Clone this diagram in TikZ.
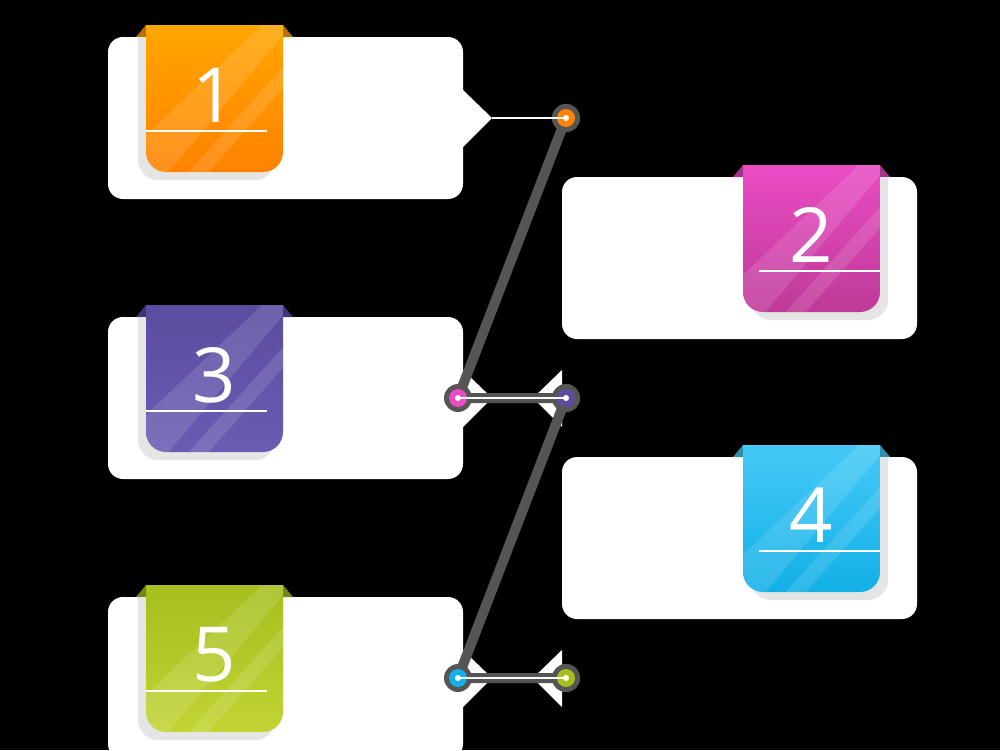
\documentclass[tikz,border=0pt]{standalone}
\usepackage{fontspec}
\setmainfont{Open Sans}
\definecolor{spinegray}{HTML}{555555}
\definecolor{oneA}{HTML}{FFA600}\definecolor{oneB}{HTML}{FF8200}
\definecolor{twoA}{HTML}{EA4CC4}\definecolor{twoB}{HTML}{BE3A98}
\definecolor{thrA}{HTML}{5B4CA0}\definecolor{thrB}{HTML}{6A5CB2}
\definecolor{forA}{HTML}{45C9F7}\definecolor{forB}{HTML}{12B0E6}
\definecolor{fivA}{HTML}{A6BE1E}\definecolor{fivB}{HTML}{C2D434}
\tikzset{
  card/.style={fill=white, rounded corners=15pt},
  spine/.style={draw=spinegray, line width=10pt, line join=round},
  dotring/.style={circle, fill=spinegray, minimum size=28pt, inner sep=0pt},
  leader/.style={draw=white, line width=1.2pt},
}
\begin{document}
\begin{tikzpicture}[x=1pt, y=-1pt]
\fill[black] (0,0) rectangle (1000,750);
\useasboundingbox (0,0) rectangle (1000,750);
\begin{scope}
\clip (0,0) rectangle (1000,750);
% cards: n / row offset / side / colour top / colour bottom
\foreach \n/\o/\s/\ca/\cb in {1/0/0/oneA/oneB, 2/140/1/twoA/twoB, 3/280/0/thrA/thrB, 4/420/1/forA/forB, 5/560/0/fivA/fivB}{
  \pgfmathsetmacro{\bx}{\s==0 ? 108 : 562}
  \pgfmathsetmacro{\tl}{\s==0 ? 146 : 743}
  \pgfmathsetmacro{\sh}{\s==0 ? -8 : 8}
  \pgfmathsetmacro{\tr}{\tl+137}
  \pgfmathsetmacro{\ty}{25+\o}
  % white card
  \fill[card] (\bx,37+\o) rectangle (\bx+355,199+\o);
  \ifnum\s=0
    \fill[white] (463,90+\o) -- (492,118+\o) -- (463,147+\o) -- cycle;
    \coordinate (t\n) at (492,118+\o);
    \node[dotring] (d\n) at (566,118+\o) {};
  \else
    \fill[white] (562,230+\o) -- (533,258+\o) -- (562,287+\o) -- cycle;
    \coordinate (t\n) at (533,258+\o);
    \node[dotring] (d\n) at (458,258+\o) {};
  \fi
  % folds
  \fill[\ca!70!black] (\tl-10,\ty+12) -- (\tl,\ty) -- (\tl,\ty+12) -- cycle;
  \fill[\ca!70!black] (\tr+10,\ty+12) -- (\tr,\ty) -- (\tr,\ty+12) -- cycle;
  % shadow
  \fill[black!10] (\tl+\sh,\ty+12) [rounded corners=20pt]-- (\tl+\sh,\ty+155) -- (\tr+\sh,\ty+155) [sharp corners]-- (\tr+\sh,\ty+12) -- cycle;
  % tag
  \begin{scope}
    \clip (\tl,\ty) [rounded corners=20pt]-- (\tl,\ty+147) -- (\tr,\ty+147) [sharp corners]-- (\tr,\ty) -- cycle;
    \shade[top color=\ca, bottom color=\cb] (\tl,\ty) rectangle (\tr,\ty+147);
    \fill[white, opacity=.12] (\tl,\ty+110) -- (\tr,\ty-20) -- (\tr,\ty+10) -- (\tl+20,\ty+150) -- (\tl,\ty+150) -- cycle;
    \fill[white, opacity=.12] (\tl+40,\ty+150) -- (\tr+20,\ty+20) -- (\tr+20,\ty+40) -- (\tl+60,\ty+150) -- cycle;
  \end{scope}
  \ifnum\s=0
    \draw[white, line width=1.2pt] (\tl,\ty+106) -- (\tr-16,\ty+106);
  \else
    \draw[white, line width=1.2pt] (\tl+16,\ty+106) -- (\tr,\ty+106);
  \fi
  \node[white, font=\fontsize{76}{76}\selectfont] (n\n) at (\tl+68,\ty+70) {\n};
}
\end{scope}
% spine
\draw[spine] (d1.center) -- (d2.center) -- (d3.center) -- (d4.center) -- (d5.center);
\foreach \n/\c in {1/oneB, 2/twoA, 3/thrA, 4/forB, 5/fivA}{
  \node[dotring] at (d\n) {};
  \fill[\c] (d\n) circle (9pt);
  \draw[leader] (t\n) -- (d\n.center);
  \fill[white] (d\n) circle (3pt);
}
\end{tikzpicture}
\end{document}
